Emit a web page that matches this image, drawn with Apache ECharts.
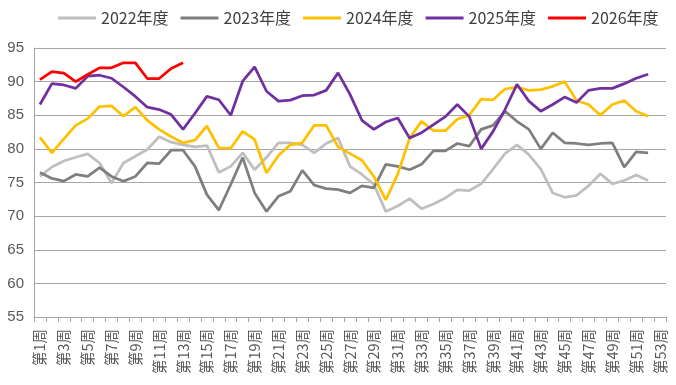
<!DOCTYPE html>
<html><head><meta charset="utf-8">
<script src="https://cdn.jsdelivr.net/npm/echarts@6/dist/echarts.min.js"></script>
<style>html,body{margin:0;padding:0;background:#fff}#c{width:676px;height:385px}</style>
</head><body><div id="c"></div>
<script>
var weeks = [];
for (var i = 1; i <= 53; i++) weeks.push('第' + i + '周');
var s2022 = [75.9,77.3,78.2,78.75,79.25,77.9,74.9,77.9,78.9,79.9,81.8,81.0,80.6,80.3,80.5,76.5,77.4,79.4,76.9,78.75,80.9,80.9,80.6,79.4,80.8,81.6,77.4,76.2,74.7,70.7,71.5,72.6,71.1,71.8,72.7,73.9,73.8,74.8,77.0,79.3,80.6,79.15,77.0,73.45,72.8,73.1,74.5,76.3,74.8,75.3,76.1,75.3,null];
var s2023 = [76.5,75.6,75.2,76.2,75.9,77.2,75.9,75.2,75.9,77.9,77.8,79.8,79.8,77.4,73.2,70.9,74.7,78.7,73.45,70.7,72.95,73.7,76.8,74.6,74.1,73.95,73.45,74.5,74.2,77.7,77.4,76.9,77.7,79.7,79.7,80.8,80.4,82.9,83.5,85.6,84.1,82.9,80.0,82.4,80.9,80.8,80.6,80.8,80.9,77.3,79.55,79.4,null];
var s2024 = [81.7,79.4,81.5,83.5,84.5,86.3,86.4,84.85,86.2,84.25,82.9,81.8,80.9,81.3,83.4,80.15,80.1,82.6,81.4,76.4,79.0,80.6,80.9,83.5,83.5,80.3,79.3,78.3,75.9,72.4,76.2,81.6,84.1,82.7,82.7,84.4,85.0,87.4,87.3,88.9,89.2,88.7,88.8,89.3,90.0,87.2,86.6,85.0,86.6,87.2,85.6,84.85,null];
var s2025 = [86.6,89.7,89.5,89.0,90.8,90.95,90.5,89.2,87.8,86.2,85.85,85.1,82.9,85.3,87.8,87.3,85.0,90.06,92.2,88.57,87.1,87.25,87.9,88.0,88.7,91.3,88.1,84.25,82.9,84.0,84.6,81.6,82.4,83.6,84.8,86.6,84.8,80.0,82.6,85.85,89.6,87.1,85.6,86.6,87.7,86.9,88.7,89.0,89.0,89.7,90.5,91.1,null];
var s2026 = [90.3,91.5,91.25,90.0,91.06,92.05,92.05,92.8,92.8,90.46,90.46,91.95,92.8];
var yMin = 55, yMax = 95, yStep = 5;

var names = ['2022年度','2023年度','2024年度','2025年度','2026年度'];
var colors = ['#BFBFBF','#7F7F7F','#FFC000','#7030A0','#FF0000'];
var datas = [s2022, s2023, s2024, s2025, s2026];

var chart = echarts.init(document.getElementById('c'), null, {renderer:'canvas'});
chart.setOption({
  animation: false,
  color: colors,
  legend: {
    top: 5, left: 53,
    icon: 'rect', itemWidth: 38, itemHeight: 3, itemGap: 12,
    textStyle: {fontSize: 16, color: '#404040', fontFamily: 'Noto Sans CJK SC'},
    data: names
  },
  grid: {left: 34, right: 10, top: 48, bottom: 68},
  xAxis: {
    type: 'category', data: weeks, boundaryGap: true,
    axisLine: {lineStyle: {color: '#A6A6A6'}},
    axisTick: {show: true, interval: 0, length: 5, lineStyle: {color: '#A6A6A6'}},
    axisLabel: {interval: 1, rotate: 90, fontSize: 14.5, color: '#595959', fontFamily: 'Noto Sans CJK SC', margin: 12}
  },
  yAxis: {
    type: 'value', min: yMin, max: yMax, interval: yStep,
    axisLine: {show: true, lineStyle: {color: '#A6A6A6'}},
    axisTick: {show: false},
    axisLabel: {fontSize: 15, color: '#595959', fontFamily: 'Liberation Sans', margin: 10},
    splitLine: {lineStyle: {color: '#A6A6A6', width: 1}}
  },
  series: names.map(function(n, k){
    return {name: n, type: 'line', data: datas[k], showSymbol: false, symbol: 'none',
      lineStyle: {width: 2.75, color: colors[k]}, itemStyle: {color: colors[k]}, z: k + 2};
  })
});
</script></body></html>
